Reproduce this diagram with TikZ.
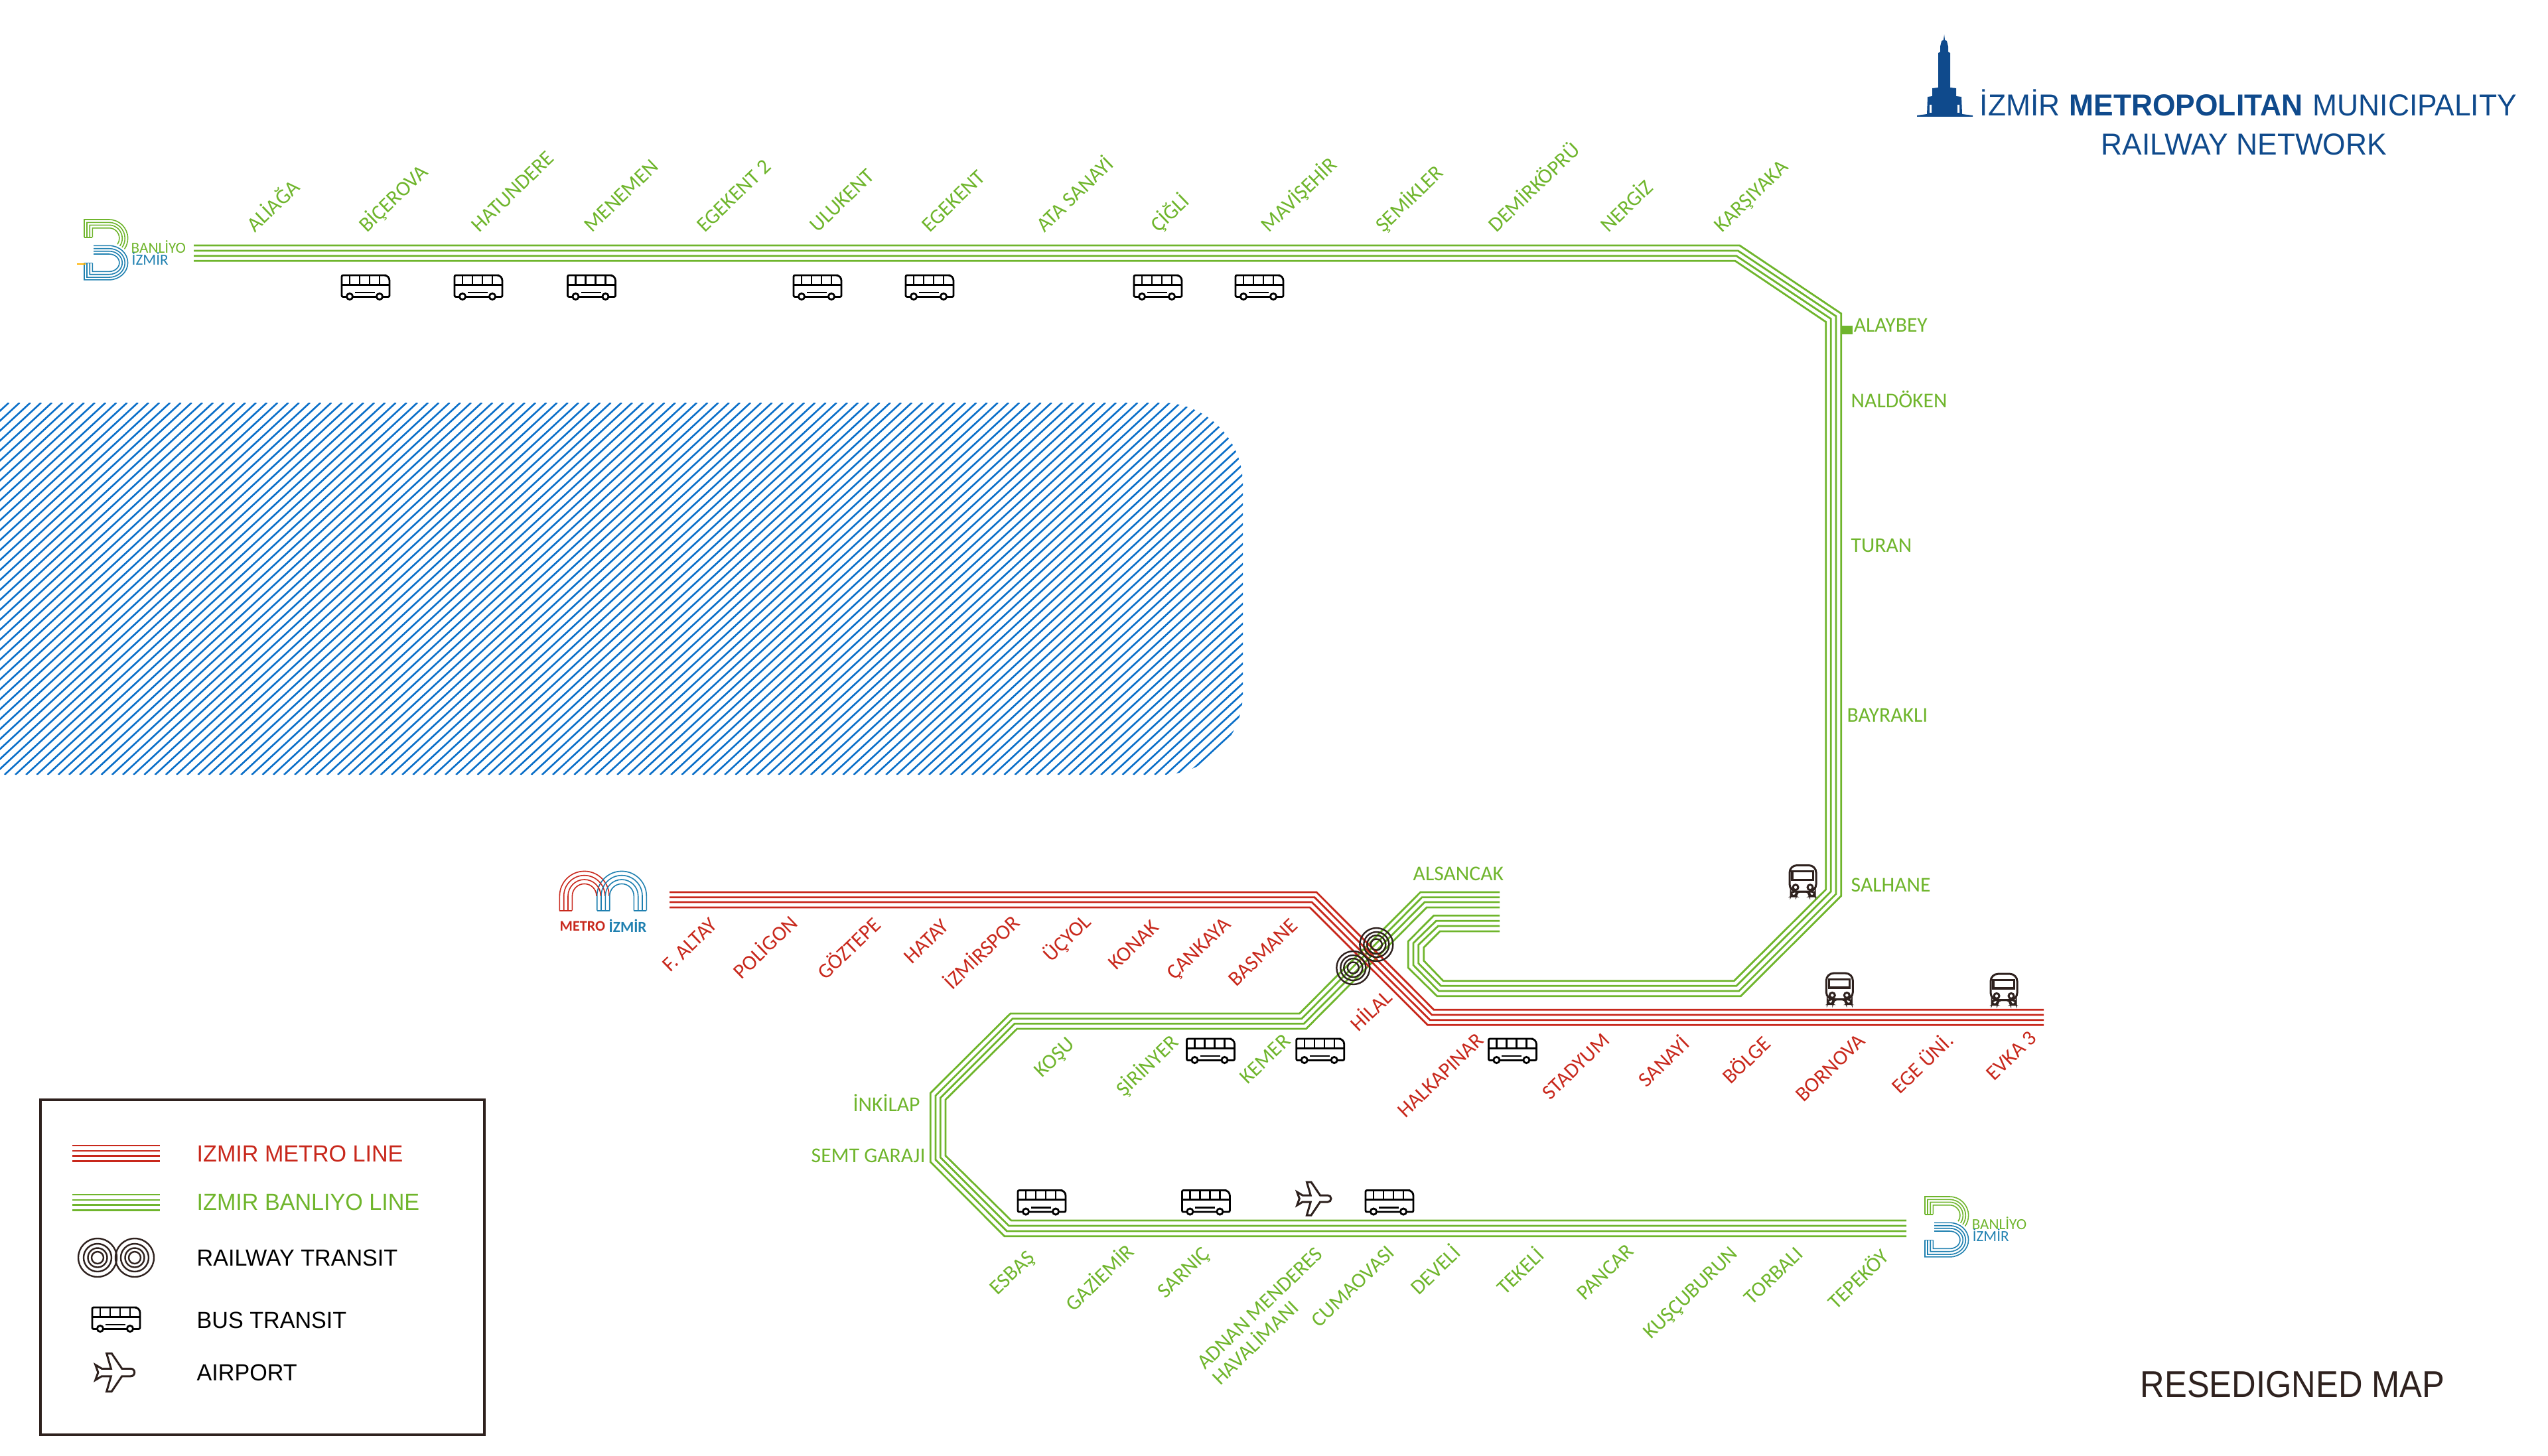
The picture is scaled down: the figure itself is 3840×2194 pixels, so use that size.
\documentclass[tikz,border=0pt]{standalone}
\usepackage{fontspec}
\setmainfont{Carlito}
\newfontfamily\squarefont[FakeStretch=0.97]{Liberation Sans}
\newfontfamily\mapfont[FakeStretch=0.9]{Liberation Sans}
\definecolor{linegreen}{HTML}{6FB52C}
\definecolor{linered}{HTML}{C8281C}
\definecolor{logoblue}{HTML}{1F80B0}
\definecolor{seablue}{HTML}{0B6FC8}
\definecolor{titlenavy}{HTML}{0F4A8C}
\definecolor{iconbrown}{HTML}{2E211E}
\tikzset{
  trackgreen/.style={draw=linegreen,line width=0.028cm,line join=miter},
  trackred/.style={draw=linered,line width=0.028cm,line join=miter},
  sealine/.style={draw=seablue,line width=0.026cm},
  ringline/.style={draw=iconbrown,line width=0.024cm},
  stagreen/.style={text=linegreen,font=\fontsize{9}{9.5}\selectfont,inner sep=0pt,anchor=base west,rotate=44},
  stared/.style={stagreen,text=linered},
  staflat/.style={text=linegreen,font=\fontsize{9}{9.5}\selectfont,inner sep=0pt,anchor=west},
  keytext/.style={font=\squarefont\fontsize{10}{12}\selectfont,inner sep=0pt,anchor=west},
  titletext/.style={text=titlenavy,font=\squarefont\fontsize{13}{15}\selectfont,inner sep=0pt,anchor=base west},
  logotext/.style={font=\fontsize{6.6}{7}\selectfont,inner sep=0pt,anchor=west},
  busside/.pic={
    \draw[black,line width=0.028cm,fill=white,rounded corners=0.02cm]
      (-36,-18) -- (29,-18) to[rounded corners=0.08cm] (36,-18) -- (36,14.5) -- (-36,14.5) -- cycle;
    \draw[black,line width=0.028cm] (-36,-3.7) -- (36,-3.7);
    \foreach \tickx in {-24,-9,6,21} \draw[black,line width=0.024cm] (\tickx,-18) -- (\tickx,-3.7);
    \draw[black,line width=0.028cm] (-16,8) -- (14,8);
    \foreach \wheelx in {-24,21} \draw[black,line width=0.028cm,fill=white] (\wheelx,14) circle[radius=4.6];
  },
  busfront/.pic={
    \draw[iconbrown,line width=0.03cm,fill=white,rounded corners=0.05cm]
      (-18,16) -- (-18,23) -- (-9.5,23) -- (-9.5,16) -- (9.5,16) -- (9.5,23) -- (18,23) -- (18,16) -- cycle;
    \draw[iconbrown,line width=0.03cm,fill=white,rounded corners=0.11cm]
      (-20,16) -- (-20,-23.5) -- (20,-23.5) -- (20,16) -- cycle;
    \draw[iconbrown,line width=0.032cm] (-16,-14.3) rectangle (15.5,-1.7);
    \foreach \lampx in {-11,11} \draw[iconbrown,line width=0.03cm] (\lampx,9.7) circle[radius=4];
  },
  planeicon/.pic={
    \draw[iconbrown,line width=0.03cm,fill=white,line join=miter]
      (20,-5) arc[start angle=270,end angle=450,radius=5] -- (8.5,5) -- (-5,25) -- (-11.6,25) -- (-5.8,5)
      -- (-18,5) -- (-26.3,10) -- (-22.7,0) -- (-26.3,-10) -- (-18,-5) -- (-5.8,-5)
      -- (-11.6,-25) -- (-5,-25) -- (8.5,-5) -- cycle;
  },
  banliyologo/.pic={
    \foreach \legx/\topy/\rad in {0/0/28.3,4/4.3/24,8.2/8.3/20,12.3/12.7/15.6}
      \draw[linegreen,line width=0.016cm] (\legx,26.7) -- (\legx,\topy) -- (37.3,\topy)
        arc[start angle=270,end angle=395,radius=\rad];
    \draw[linegreen,line width=0.016cm] (0,26.7) -- (12.3,26.7);
    \foreach \legx/\topy/\rad/\yrad in {0/39.3/28.3/25.8,4/43.7/24/21.7,8.2/47.7/20/17.5,12.3/52/15.6/13.2}
      \draw[logoblue,line width=0.016cm] (14,\topy) -- (37.3,\topy)
        arc[start angle=270,end angle=450,x radius=\rad,y radius=\yrad] -- (\legx,{\topy+2*\yrad}) -- (\legx,65.3);
    \draw[logoblue,line width=0.016cm] (0,65.3) -- (12.3,65.3);
  },
}
\begin{document}
\begin{tikzpicture}[x=0.01cm,y=-0.01cm]
  \useasboundingbox (0,0) rectangle (3840,2194);

  \begin{scope}
    \clip (-5,607) -- (1750,607) arc[start angle=270,end angle=360,radius=123]
      -- (1873,1045) arc[start angle=0,end angle=90,radius=123] -- (-5,1168) -- cycle;
    \foreach \i in {-60,...,94}
      \draw[sealine] ({1520-16.2*\i},607) -- ({1520-16.2*\i-606},1168);
  \end{scope}

  \draw[trackgreen] (292,370) -- (2621.7,370) -- (2774.7,472.7) -- (2774.7,1350.7) -- (2623.3,1501.7) -- (2165.7,1501.7) -- (2122.3,1459) -- (2122.3,1419) -- (2160.7,1380.3) -- (2260,1380.3);
  \draw[trackgreen] (292,378) -- (2619.3,378) -- (2767,476.7) -- (2767,1347.7) -- (2620.7,1494) -- (2168.3,1494) -- (2130,1455) -- (2130,1421.7) -- (2164.3,1388.3) -- (2260,1388.3);
  \draw[trackgreen] (292,385.7) -- (2616.7,385.7) -- (2759.3,480.7) -- (2759.3,1344) -- (2616.7,1486.3) -- (2171.7,1486.3) -- (2137.7,1452.3) -- (2137.7,1424.3) -- (2167.3,1396) -- (2260,1396);
  \draw[trackgreen] (292,393.3) -- (2615,393.3) -- (2751.7,485.3) -- (2751.7,1341) -- (2613.3,1478.7) -- (2175,1478.7) -- (2145.7,1448.3) -- (2145.7,1428.3) -- (2170,1404) -- (2260,1404);
  \fill[linegreen] (2775,490.7) rectangle (2792,504);

  \draw[trackgreen] (2260,1345) -- (2140.7,1345) -- (1958.3,1528) -- (1522.7,1528) -- (1402.3,1647.7) -- (1402.3,1751.7) -- (1513.8,1863.7) -- (2873,1863.7);
  \draw[trackgreen] (2260,1352.7) -- (2143,1352.7) -- (1961.7,1535.7) -- (1526,1535.7) -- (1410,1651.7) -- (1410,1748.3) -- (1517.4,1856) -- (2873,1856);
  \draw[trackgreen] (2260,1360) -- (2147,1360) -- (1965,1543.3) -- (1529,1543.3) -- (1417.3,1655) -- (1417.3,1745) -- (1520.5,1848) -- (2873,1848);
  \draw[trackgreen] (2260,1368) -- (2150,1368) -- (1968.3,1551) -- (1532.7,1551) -- (1425,1657.7) -- (1425,1742.3) -- (1524,1840) -- (2873,1840);

  \draw[trackred] (1009,1345) -- (1984,1345) -- (2161,1522.3) -- (3080,1522.3);
  \draw[trackred] (1009,1352.7) -- (1981,1352.7) -- (2158,1530) -- (3080,1530);
  \draw[trackred] (1009,1360) -- (1977,1360) -- (2155,1537.7) -- (3080,1537.7);
  \draw[trackred] (1009,1368) -- (1974,1368) -- (2151.7,1545.3) -- (3080,1545.3);

  \foreach \cx/\cy in {2074.3/1424,2039.3/1459}
    \foreach \r in {25,19,14,8.5}
      \draw[ringline] (\cx,\cy) circle[radius=\r];

  \foreach \busx/\busy in {551/433,721/433,891.5/433,1232/433,1401/433,1745/433,1898/433,1824.5/1584,1989.7/1584,2279.4/1584,1570/1812.5,1817.4/1812.5,2094/1812.5}
    \pic at (\busx,\busy) {busside};
  \foreach \busx/\busy in {2717/1328,2772.3/1490.7,3020/1491.7}
    \pic at (\busx,\busy) {busfront};
  \pic at (1981,1807) {planeicon};

  \foreach \sx/\sname/\stext in {384/aliaga/ALİAĞA,553/bicerova/BİÇEROVA,722/hatundere/HATUNDERE,892/menemen/MENEMEN,1062/egekentb/EGEKENT 2,1232/ulukent/ULUKENT,1401/egekent/EGEKENT,1574/atasanayi/ATA SANAYİ,1746/cigli/ÇİĞLİ,1912/mavisehir/MAVİŞEHİR,2085/semikler/ŞEMİKLER,2255/demirkopru/DEMİRKÖPRÜ,2424/nergiz/NERGİZ,2595/karsiyaka/KARŞIYAKA}
    \node[stagreen] (\sname) at (\sx,352) {\stext};

  \foreach \sx/\sy/\sname/\stext in {1570/1626/kosu/KOŞU,1694/1655/sirinyer/ŞİRİNYER,1880/1636/kemer/KEMER,1503/1954/esbas/ESBAŞ,1618/1979/gaziemir/GAZİEMİR,1756/1959/sarnic/SARNIÇ,1988/2003/cumaovasi/CUMAOVASI,2138/1954/develi/DEVELİ,2268/1954/tekeli/TEKELİ,2388/1962/pancar/PANCAR,2488/2020/kuscuburun/KUŞÇUBURUN,2640/1969/torbali/TORBALI,2767/1976/tepekoy/TEPEKÖY}
    \node[stagreen] (\sname) at (\sx,\sy) {\stext};
  \node[stagreen,anchor=center,align=left] (adnan) at (1910,1984) {ADNAN MENDERES\\HAVALİMANI};

  \foreach \sx/\sy/\sname/\stext in {1010/1467/faltay/F. ALTAY,1117/1478/poligon/POLİGON,1244/1479/goztepe/GÖZTEPE,1374/1455/hatay/HATAY,1435/1494/izmirspor/İZMİRSPOR,1584/1452/ucyol/ÜÇYOL,1682/1464/konak/KONAK,1770/1479/cankaya/ÇANKAYA,1863/1489/basmane/BASMANE,2047/1557/hilal/HİLAL,2118/1687/halkapinar/HALKAPINAR,2336/1660/stadyum/STADYUM,2481/1641/sanayi/SANAYİ,2608/1636/bolge/BÖLGE,2718/1663/bornova/BORNOVA,2863/1651/egeuni/EGE ÜNİ.,3005/1631/evka/EVKA 3}
    \node[stared] (\sname) at (\sx,\sy) {\stext};

  \foreach \sx/\sy/\sname/\stext in {2793/490/alaybey/ALAYBEY,2789/602/naldoken/NALDÖKEN,2789/822/turan/TURAN,2783/1078/bayrakli/BAYRAKLI,2789/1334/salhane/SALHANE,2129/1317/alsancak/ALSANCAK,1285/1663/inkilap/İNKİLAP,1222/1742/semtgaraji/SEMT GARAJI}
    \node[staflat] (\sname) at (\sx,\sy) {\stext};

  \pic at (127,331) {banliyologo};
  \draw[orange!60!yellow,line width=0.02cm] (116,398) -- (129,398);
  \node[logotext,text=linegreen] (banliyoa) at (197,372) {BANLİYO};
  \node[logotext,text=logoblue] (izmira) at (198,390) {İZMİR};
  \pic at (2901,1804) {banliyologo};
  \node[logotext,text=linegreen] (banliyob) at (2971,1844) {BANLİYO};
  \node[logotext,text=logoblue] (izmirb) at (2972,1862) {İZMİR};

  \foreach \r in {37.3,31,24.7,18.3} {
    \draw[linered,line width=0.016cm] (880.7-\r,1372.7) -- (880.7-\r,1350.7) arc[start angle=180,end angle=360,radius=\r];
    \draw[logoblue,line width=0.016cm] (937-\r,1372.7) -- (937-\r,1350.7) arc[start angle=180,end angle=360,radius=\r] -- (937+\r,1372.7);
  }
  \draw[linered,line width=0.016cm] (843.4,1372.7) -- (862.4,1372.7);
  \draw[logoblue,line width=0.016cm] (899.7,1372.7) -- (918.7,1372.7) (955.3,1372.7) -- (974.3,1372.7);
  \node[logotext,text=linered,font=\bfseries\fontsize{6.3}{7}\selectfont,anchor=west] (metrotxt) at (843,1396) {METRO};
  \node[logotext,text=logoblue,font=\bfseries\fontsize{6.6}{7}\selectfont,anchor=west] (izmirc) at (917,1396) {İZMİR};

  \fill[titlenavy] (2930,52) -- (2931,60) -- (2934,62) -- (2936,70) -- (2936,78) -- (2939,80) -- (2939,132) -- (2948,133) -- (2948,145) -- (2956,146) -- (2957,172) -- (2973,174) -- (2973,176) -- (2889,176) -- (2889,174) -- (2904,172) -- (2905,146) -- (2912,145) -- (2912,133) -- (2921,132) -- (2921,80) -- (2924,78) -- (2924,70) -- (2926,62) -- (2929,60) -- cycle;
  \fill[white] (2908,158) rectangle (2911,170) (2950,158) rectangle (2953,170);

  \node[titletext] (titleizmir) at (2983,175) {İZMİR};
  \node[titletext,font=\squarefont\bfseries\fontsize{13}{15}\selectfont] (titlemetro) at (3118,175) {METROPOLITAN};
  \node[titletext] (titlemuni) at (3485,175) {MUNICIPALITY};
  \node[titletext] (titlerail) at (3166,233) {RAILWAY NETWORK};
  \node[inner sep=0pt,anchor=west,text=iconbrown,font=\mapfont\fontsize{16}{18}\selectfont] (resmap) at (3225,2087) {RESEDIGNED MAP};

  \draw[iconbrown,line width=0.04cm] (61,1658) rectangle (730,2163);
  \foreach \ly in {1727,1735,1742.5,1750.4}
    \draw[trackred] (109,\ly) -- (241,\ly);
  \foreach \ly in {1801,1809,1816.5,1824.4}
    \draw[trackgreen] (109,\ly) -- (241,\ly);
  \foreach \cx in {147,203}
    \foreach \r in {29,21,14.5,9}
      \draw[ringline] (\cx,1896) circle[radius=\r];
  \pic at (175,1989) {busside};
  \pic[scale=1.15] at (174,2069) {planeicon};
  \node[keytext,text=linered] (keymetro) at (296,1739) {IZMIR METRO LINE};
  \node[keytext,text=linegreen] (keybanliyo) at (296,1812) {IZMIR BANLIYO LINE};
  \node[keytext,text=black] (keyrail) at (296,1896) {RAILWAY TRANSIT};
  \node[keytext,text=black] (keybus) at (296,1990) {BUS TRANSIT};
  \node[keytext,text=black] (keyair) at (296,2069) {AIRPORT};
\end{tikzpicture}
\end{document}
